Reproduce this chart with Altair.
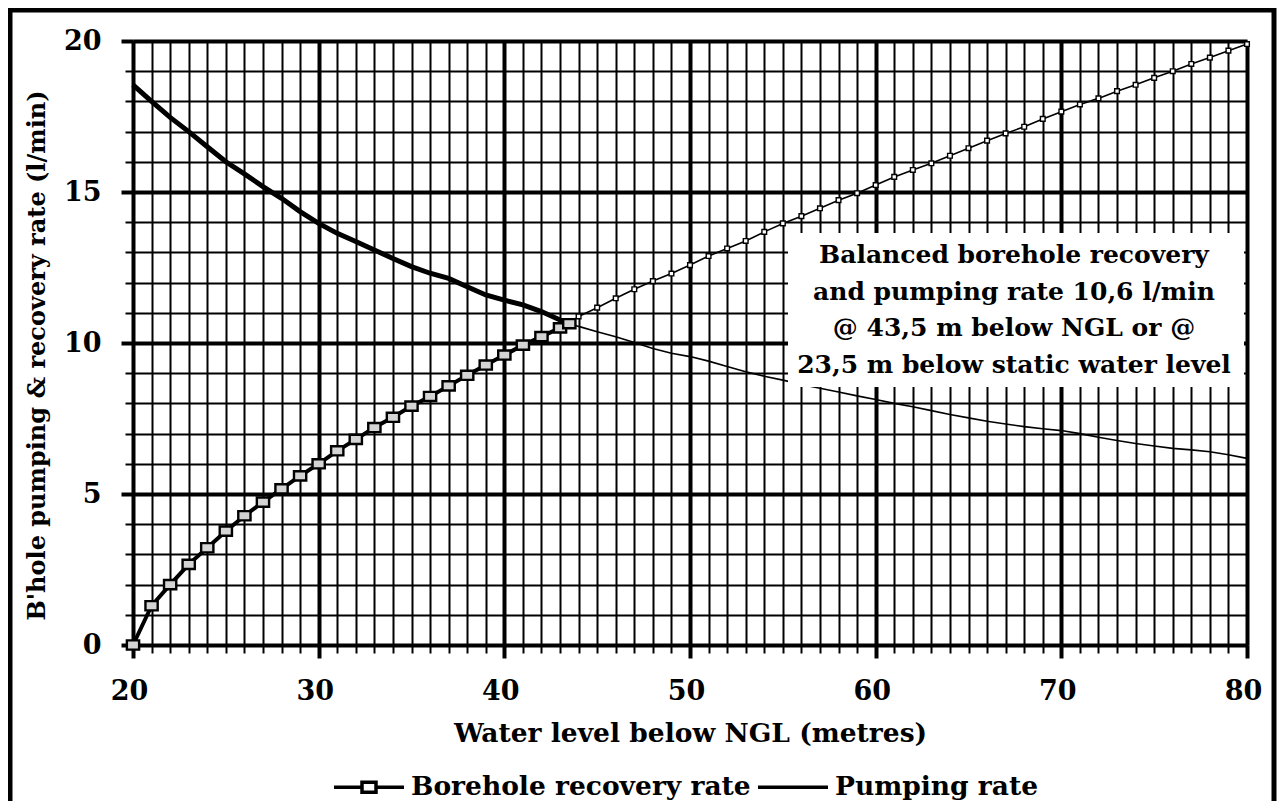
import altair as alt
import pandas as pd

# ---------------- data ----------------
rec_x_thick = [20, 21, 22, 23, 24, 25, 26, 27, 28, 29, 30, 31, 32, 33, 34, 35, 36, 37, 38, 39, 40, 41, 42, 43, 43.5]
rec_y_thick = [0, 1.3, 2.0, 2.67, 3.22, 3.77, 4.28, 4.73, 5.17, 5.6, 6.0, 6.43, 6.81, 7.2, 7.54, 7.91, 8.23, 8.58,
               8.93, 9.27, 9.6, 9.93, 10.21, 10.5, 10.64]
rec_x_thin = [43.5, 44, 45, 46, 47, 48, 49, 50, 51, 52, 53, 54, 55, 56, 57, 58, 59, 60, 61, 62, 63, 64, 65, 66, 67,
              68, 69, 70, 71, 72, 73, 74, 75, 76, 77, 78, 79, 80]
rec_y_thin = [10.64, 10.88, 11.17, 11.48, 11.78, 12.05, 12.3, 12.58, 12.88, 13.13, 13.38, 13.68, 13.96, 14.2, 14.46,
              14.73, 14.96, 15.23, 15.5, 15.73, 15.95, 16.2, 16.45, 16.7, 16.94, 17.16, 17.42, 17.66, 17.9, 18.1,
              18.34, 18.55, 18.78, 19.0, 19.24, 19.45, 19.68, 19.9]

pump_x_thick = [20, 21, 22, 23, 24, 25, 26, 27, 28, 29, 30, 31, 32, 33, 34, 35, 36, 37, 38, 39, 40, 41, 42, 43, 43.6]
pump_y_thick = [18.55, 18.0, 17.47, 17.0, 16.5, 16.0, 15.6, 15.18, 14.79, 14.35, 13.96, 13.63, 13.36, 13.08, 12.8,
                12.53, 12.31, 12.14, 11.86, 11.59, 11.42, 11.26, 11.04, 10.76, 10.63]
pump_x_thin = [43.6, 44, 45, 46, 47, 48, 49, 50, 51, 52, 53, 54, 55, 56, 57, 58, 59, 60, 61, 62, 63, 64, 65, 66, 67,
               68, 69, 70, 71, 72, 73, 74, 75, 76, 77, 78, 79, 80]
pump_y_thin = [10.63, 10.55, 10.37, 10.21, 10.02, 9.82, 9.66, 9.55, 9.4, 9.22, 9.05, 8.9, 8.77, 8.63, 8.5, 8.38,
               8.25, 8.13, 8.0, 7.89, 7.76, 7.63, 7.52, 7.41, 7.32, 7.23, 7.16, 7.1, 7.0, 6.88, 6.77, 6.67, 6.59,
               6.51, 6.46, 6.4, 6.3, 6.18]

x_major_ticks = [20, 30, 40, 50, 60, 70, 80]
y_major_ticks = [0, 5, 10, 15, 20]
x_minor_ticks = list(range(20, 81))
y_minor_ticks = list(range(0, 21))

series_names = ["Borehole recovery rate", "Pumping rate"]
x_title = "Water level below NGL (metres)"
y_title = "B'hole pumping & recovery rate (l/min)"
annotation_lines = [
    "Balanced borehole recovery",
    "and pumping rate  10,6 l/min",
    "@ 43,5 m below NGL or @",
    "23,5 m below static water level",
]

# ---------------- styling ----------------
FONT = "DejaVu Serif"
W, H = 1114, 604

rec_thick_df = pd.DataFrame({"x": rec_x_thick, "y": rec_y_thick})
rec_thin_df = pd.DataFrame({"x": rec_x_thin, "y": rec_y_thin})
pump_thick_df = pd.DataFrame({"x": pump_x_thick, "y": pump_y_thick})
pump_thin_df = pd.DataFrame({"x": pump_x_thin, "y": pump_y_thin})
legend_df = pd.DataFrame({"series": series_names, "x": [20, 20], "y": [0, 0]})
one_df = pd.DataFrame({"k": [0]})

xscale = alt.Scale(domain=[20, 80], nice=False, zero=False)
yscale = alt.Scale(domain=[0, 20], nice=False)

major_x_axis = alt.Axis(
    values=x_major_ticks, orient="bottom", grid=True, gridColor="black", gridWidth=4, gridOpacity=1,
    domain=False, tickSize=13, tickWidth=4, tickColor="black",
    labelFont=FONT, labelFontWeight="bold", labelFontSize=27, labelColor="black",
    labelPadding=20, labelFlush=False, labelOffset=-4, labelOverlap=False, format="d",
    title=x_title, titleFont=FONT, titleFontSize=26.5, titleFontWeight="bold", titleColor="black",
    titleY=96, titleBaseline="alphabetic",
)
minor_x_axis = alt.Axis(
    values=x_minor_ticks, orient="bottom", grid=True, gridColor="black", gridWidth=2, gridOpacity=1,
    domain=False, tickSize=8, tickWidth=2, tickColor="black", labels=False, title=None,
)
major_y_axis = alt.Axis(
    values=y_major_ticks, orient="left", grid=True, gridColor="black", gridWidth=4, gridOpacity=1,
    domain=False, tickSize=12, tickWidth=4, tickColor="black",
    labelFont=FONT, labelFontWeight="bold", labelFontSize=27, labelColor="black",
    labelPadding=20, labelFlush=False, labelOverlap=False, format="d",
    title=y_title, titleFont=FONT, titleFontSize=24, titleFontWeight="bold", titleColor="black",
    titleAngle=270, titleX=-89, titleY=314, titleBaseline="alphabetic", titleAlign="center",
)
minor_y_axis = alt.Axis(
    values=y_minor_ticks, orient="left", grid=True, gridColor="black", gridWidth=2, gridOpacity=1,
    domain=False, tickSize=8, tickWidth=2, tickColor="black", labels=False, title=None,
)

big_marker = "M-1,-0.75H1V0.75H-1Z"

pump_thin = alt.Chart(pump_thin_df).mark_line(color="black", strokeWidth=1.6).encode(
    x=alt.X("x:Q", scale=xscale, axis=minor_x_axis),
    y=alt.Y("y:Q", scale=yscale, axis=minor_y_axis),
)
pump_thick = alt.Chart(pump_thick_df).mark_line(color="black", strokeWidth=5).encode(
    x=alt.X("x:Q", scale=xscale, axis=major_x_axis),
    y=alt.Y("y:Q", scale=yscale, axis=major_y_axis),
)
rec_thick_line = alt.Chart(rec_thick_df).mark_line(color="black", strokeWidth=4).encode(
    x=alt.X("x:Q", scale=xscale, axis=None),
    y=alt.Y("y:Q", scale=yscale, axis=None),
)
rec_thin_line = alt.Chart(rec_thin_df).mark_line(color="black", strokeWidth=1.6).encode(
    x=alt.X("x:Q", scale=xscale, axis=None),
    y=alt.Y("y:Q", scale=yscale, axis=None),
)
rec_thin_pts = alt.Chart(rec_thin_df).mark_point(
    shape="square", size=22, filled=True, fill="white", stroke="black", strokeWidth=1.4, opacity=1
).encode(
    x=alt.X("x:Q", scale=xscale, axis=None),
    y=alt.Y("y:Q", scale=yscale, axis=None),
)
rec_thick_pts = alt.Chart(rec_thick_df).mark_point(
    shape=big_marker, size=150, filled=True, fill="#d4d4d4", stroke="black", strokeWidth=2.4, opacity=1
).encode(
    x=alt.X("x:Q", scale=xscale, axis=None),
    y=alt.Y("y:Q", scale=yscale, axis=None),
)

box = alt.Chart(one_df).mark_rect(fill="white", stroke=None).encode(
    x=alt.value(655), x2=alt.value(1111), y=alt.value(192), y2=alt.value(346)
)
note = alt.Chart(one_df).mark_text(
    text=annotation_lines, font=FONT, fontSize=25, fontWeight="bold", color="black",
    align="center", baseline="middle", lineHeight=36.7,
).encode(x=alt.value(881), y=alt.value(214))

rec_path = "M-1,0H-0.2M0.2,0H1M-0.2,-0.14H0.2V0.14H-0.2Z"
pump_path = "M-1,0H1"
legend_layer = alt.Chart(legend_df).transform_filter("datum.x > 1000").mark_point(
    color="black", filled=False, opacity=1
).encode(
    x=alt.X("x:Q", scale=xscale, axis=None),
    y=alt.Y("y:Q", scale=yscale, axis=None),
    shape=alt.Shape(
        "series:N",
        scale=alt.Scale(domain=series_names, range=[rec_path, pump_path]),
        legend=alt.Legend(
            orient="none", legendX=199, legendY=709, direction="horizontal", title=None,
            symbolSize=4900, symbolStrokeWidth=3.5, symbolStrokeColor="black", symbolFillColor="white",
            symbolOpacity=1,
            labelFont=FONT, labelFontWeight="bold", labelFontSize=26.5, labelColor="black",
            labelOffset=5, columnPadding=0, labelLimit=600,
        ),
    ),
)

frame_left = alt.Chart(one_df).mark_rule(color="black", strokeWidth=5).encode(
    x=alt.value(-123), y=alt.value(-33), y2=alt.value(790)
)
frame_top = alt.Chart(one_df).mark_rule(color="black", strokeWidth=5).encode(
    x=alt.value(-125), x2=alt.value(1143), y=alt.value(-31)
)
frame_right = alt.Chart(one_df).mark_rule(color="black", strokeWidth=5).encode(
    x=alt.value(1141), y=alt.value(-33), y2=alt.value(790)
)

chart = alt.layer(
    pump_thin, pump_thick, rec_thick_line, rec_thin_line, rec_thin_pts, rec_thick_pts,
    box, note, legend_layer, frame_left, frame_top, frame_right,
).resolve_axis(
    x="independent", y="independent"
).properties(
    width=W, height=H,
    autosize=alt.AutoSizeParams(type="none"),
    padding={"left": 125, "top": 33, "right": 30, "bottom": 156},
    background="white",
).configure_view(stroke=None)

chart.save("out.html", embed_options={"renderer": "svg", "actions": False})
